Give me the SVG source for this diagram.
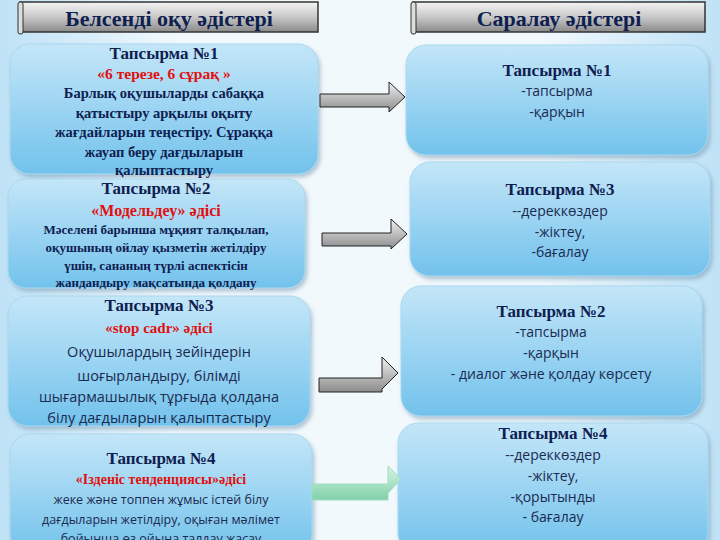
<svg xmlns="http://www.w3.org/2000/svg" width="720" height="540" viewBox="0 0 720 540">
<defs>
<linearGradient id="bg" x1="0" y1="0" x2="1" y2="0"><stop offset="0" stop-color="#bfe2f6"/><stop offset="0.25" stop-color="#f2f9fd"/><stop offset="0.75" stop-color="#f2f9fd"/><stop offset="1" stop-color="#bfe2f6"/></linearGradient>
<linearGradient id="box" x1="0" y1="0" x2="0" y2="1"><stop offset="0" stop-color="#c4e6f8"/><stop offset="1" stop-color="#72c2ec"/></linearGradient>
<linearGradient id="ban" x1="0" y1="0" x2="0" y2="1"><stop offset="0" stop-color="#f4f4f4"/><stop offset="0.5" stop-color="#c8c8c8"/><stop offset="1" stop-color="#8a8a8a"/></linearGradient>
<linearGradient id="arr" x1="0" y1="0" x2="0" y2="1"><stop offset="0" stop-color="#f0f0f0"/><stop offset="1" stop-color="#8c8c8c"/></linearGradient>
<linearGradient id="garr" x1="0" y1="0" x2="0" y2="1"><stop offset="0" stop-color="#d5f5e6"/><stop offset="1" stop-color="#7fd0a8"/></linearGradient>
<filter id="sh" x="-5%" y="-5%" width="110%" height="115%"><feDropShadow dx="2" dy="3" stdDeviation="2" flood-color="#6a8fa8" flood-opacity="0.5"/></filter>
</defs>
<style>
.box{fill:url(#box);stroke:#a9d8f0;stroke-width:1;filter:url(#sh)}
.ban{fill:url(#ban);stroke:#333;stroke-width:1.5}
.bt{font-family:"Liberation Serif",serif;font-weight:bold;font-size:22px;fill:#0e2050;text-anchor:middle}
.t{font-family:"Liberation Serif",serif;font-weight:bold;fill:#0e2050;text-anchor:middle}
.r{fill:#e01010}
.s{font-family:"Open Sans","DejaVu Sans",sans-serif;font-weight:normal;fill:#1a2a50;text-anchor:middle}
.a{fill:url(#arr);stroke:#222;stroke-width:1}
.g{fill:url(#garr);stroke:#9fdcc0;stroke-width:1}
</style>
<rect width="720" height="540" fill="url(#bg)"/>
<g id="banner-left"><rect class="ban" x="20" y="2" width="298" height="30"/><rect x="18" y="2" width="5" height="32" rx="2" fill="#ddd" stroke="#333"/><text class="bt" x="169" y="26">Белсенді оқу әдістері</text></g>
<g id="banner-right"><rect class="ban" x="413" y="2" width="292" height="30"/><rect x="411" y="2" width="5" height="32" rx="2" fill="#ddd" stroke="#333"/><text class="bt" x="559" y="26">Саралау әдістері</text></g>

<g id="L1"><rect class="box" x="10" y="44" width="308" height="130" rx="20"/>
<text class="t" font-size="17" x="164" y="59">Тапсырма №1</text>
<text class="t r" font-size="15.5" x="164" y="79">«6 терезе, 6 сұрақ »</text>
<text class="t" font-size="14.5" x="164" y="98">Барлық оқушыларды сабаққа</text>
<text class="t" font-size="14.5" x="164" y="118">қатыстыру арқылы оқыту</text>
<text class="t" font-size="14.5" x="164" y="137">жағдайларын теңестіру. Сұраққа</text>
<text class="t" font-size="14.5" x="164" y="157">жауап беру дағдыларын</text>
<text class="t" font-size="14.5" x="164" y="175">қалыптастыру</text></g>

<g id="L2"><rect class="box" x="8" y="179" width="297" height="109" rx="18"/>
<text class="t" font-size="17" x="156" y="194">Тапсырма №2</text>
<text class="t r" font-size="16" x="156" y="216">«Модельдеу» әдісі</text>
<text class="t" font-size="13" x="156" y="234">Мәселені барынша мұқият талқылап,</text>
<text class="t" font-size="13" x="156" y="252">оқушының ойлау қызметін жетілдіру</text>
<text class="t" font-size="13" x="156" y="270">үшін, сананың түрлі аспектісін</text>
<text class="t" font-size="13" x="156" y="287">жандандыру мақсатында қолдану</text></g>

<g id="L3"><rect class="box" x="8" y="296" width="302" height="130" rx="20"/>
<text class="t" font-size="17" x="159" y="311">Тапсырма №3</text>
<text class="t r" font-size="15" x="159" y="333">«stop cadr» әдісі</text>
<text class="s" font-size="14.5" x="159" y="357">Оқушылардың зейіндерін</text>
<text class="s" font-size="14.5" x="159" y="381">шоғырландыру, білімді</text>
<text class="s" font-size="14.5" x="159" y="402">шығармашылық тұрғыда қолдана</text>
<text class="s" font-size="14.5" x="159" y="423">білу дағдыларын қалыптастыру</text></g>

<g id="L4"><rect class="box" x="10" y="434" width="302" height="120" rx="20"/>
<text class="t" font-size="17" x="161" y="464">Тапсырма №4</text>
<text class="t r" font-size="14" x="161" y="484">«Ізденіс тенденциясы»әдісі</text>
<text class="s" font-size="12.5" x="161" y="504">жеке және топпен жұмыс істей білу</text>
<text class="s" font-size="12.5" x="161" y="524">дағдыларын жетілдіру, оқыған мәлімет</text>
<text class="s" font-size="12.5" x="161" y="543">бойынша өз ойына талдау жасау</text></g>

<g id="R1"><rect class="box" x="406" y="45" width="302" height="110" rx="20"/>
<text class="t" font-size="17" x="557" y="76">Тапсырма №1</text>
<text class="s" font-size="14" x="557" y="96">-тапсырма</text>
<text class="s" font-size="14" x="557" y="117">-қарқын</text></g>

<g id="R3"><rect class="box" x="410" y="162" width="300" height="114" rx="20"/>
<text class="t" font-size="17" x="560" y="195">Тапсырма №3</text>
<text class="s" font-size="14" x="560" y="216">--дереккөздер</text>
<text class="s" font-size="14" x="560" y="237">-жіктеу,</text>
<text class="s" font-size="14" x="560" y="257">-бағалау</text></g>

<g id="R2"><rect class="box" x="401" y="286" width="301" height="130" rx="20"/>
<text class="t" font-size="17" x="551" y="317">Тапсырма №2</text>
<text class="s" font-size="14" x="551" y="337">-тапсырма</text>
<text class="s" font-size="14" x="551" y="358">-қарқын</text>
<text class="s" font-size="14" x="551" y="379">- диалог және қолдау көрсету</text></g>

<g id="R4"><rect class="box" x="398" y="423" width="310" height="130" rx="20"/>
<text class="t" font-size="17" x="553" y="439">Тапсырма №4</text>
<text class="s" font-size="14" x="553" y="460">--дереккөздер</text>
<text class="s" font-size="14" x="553" y="481">-жіктеу,</text>
<text class="s" font-size="14" x="553" y="502">-қорытынды</text>
<text class="s" font-size="14" x="553" y="522">- бағалау</text></g>

<g id="connectors">
<path class="a" d="M320,94 H389 V82 L405,97 L389,112 V107 H320 Z"/>
<path class="a" d="M322,233 H391 V219 L407,234 L391,249 V246 H322 Z"/>
<path class="a" d="M319,378 H382 V357 L398,373 L382,389 V392 H319 Z"/>
<path class="g" d="M312,484 H388 V466 L401,479 L388,493 V500 H312 Z"/>
</g>
</svg>
